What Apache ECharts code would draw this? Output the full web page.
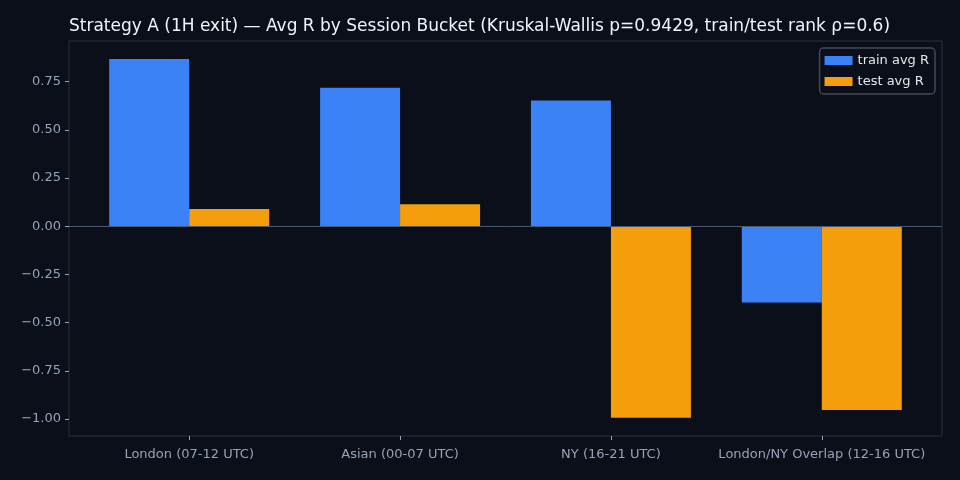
<!DOCTYPE html>
<html>
<head>
    <meta charset="utf-8" />
    <title>Avg R by Session Bucket</title>
    <script src="https://cdn.jsdelivr.net/npm/echarts@6/dist/echarts.min.js"></script>
    <style>
        html, body { margin: 0; padding: 0; background: #0b0f19; }
        #chart { width: 960px; height: 480px; }
    </style>
</head>
<body>
    <div id="chart"></div>
    <script type="text/javascript">
        // data
        var categories = ['London (07-12 UTC)', 'Asian (00-07 UTC)', 'NY (16-21 UTC)', 'London/NY Overlap (12-16 UTC)'];
        var trainAvgR = [0.868, 0.719, 0.652, -0.396];
        var testAvgR = [0.090, 0.114, -0.993, -0.953];
        var yTicks = [-1.0, -0.75, -0.5, -0.25, 0, 0.25, 0.5, 0.75];

        var xTicks = categories.map(function (c, i) { return i; });

        function fmtY(v) {
            var s = Math.abs(v).toFixed(2);
            return v < 0 ? '\u2212' + s : s;
        }

        var labelColor = '#94a3b8';
        var frameColor = '#2a3140';

        var myChart = echarts.init(document.getElementById('chart'));

        var option = {
            backgroundColor: '#0b0f19',
            animation: false,
            title: {
                text: 'Strategy A (1H exit) \u2014 Avg R by Session Bucket (Kruskal-Wallis p=0.9429, train/test rank \u03c1=0.6)',
                left: 64,
                top: 13,
                textStyle: { color: '#f1f5f9', fontSize: 17, fontWeight: 'normal', fontFamily: 'DejaVu Sans' }
            },
            legend: {
                right: 25,
                top: 48,
                orient: 'vertical',
                icon: 'rect',
                itemWidth: 28,
                itemHeight: 9,
                itemGap: 8,
                padding: [6, 6, 6, 5],
                borderColor: '#444a56',
                borderWidth: 1.5,
                borderRadius: 4,
                backgroundColor: '#0b0f19',
                textStyle: { color: '#e5e7eb', fontSize: 13, fontFamily: 'DejaVu Sans' },
                data: ['train avg R', 'test avg R']
            },
            grid: {
                left: 69, right: 18, top: 41, bottom: 44,
                show: true,
                borderColor: frameColor,
                borderWidth: 1,
                backgroundColor: '#0b0f19'
            },
            xAxis: {
                type: 'value',
                min: -0.57,
                max: 3.57,
                splitLine: { show: false },
                axisLine: { show: false, onZero: false },
                axisTick: { show: true, customValues: xTicks, length: 4, lineStyle: { color: labelColor } },
                axisLabel: {
                    customValues: xTicks,
                    color: labelColor,
                    fontSize: 13,
                    fontFamily: 'DejaVu Sans',
                    margin: 12,
                    formatter: function (v) { return categories[Math.round(v)]; }
                }
            },
            yAxis: {
                type: 'value',
                min: -1.088,
                max: 0.961,
                splitLine: { show: false },
                axisLine: { show: false, onZero: false },
                axisTick: { show: true, customValues: yTicks, length: 4, lineStyle: { color: labelColor } },
                axisLabel: {
                    customValues: yTicks,
                    color: labelColor,
                    fontSize: 13,
                    fontFamily: 'DejaVu Sans',
                    margin: 8,
                    formatter: fmtY
                }
            },
            series: [
                {
                    name: 'train avg R',
                    type: 'bar',
                    barWidth: 80,
                    barGap: '0%',
                    itemStyle: { color: '#3b82f6' },
                    data: trainAvgR.map(function (v, i) { return [i, v]; }),
                    markLine: {
                        silent: true,
                        symbol: 'none',
                        label: { show: false },
                        lineStyle: { color: '#4b5a70', type: 'solid', width: 1 },
                        data: [{ yAxis: 0 }]
                    }
                },
                {
                    name: 'test avg R',
                    type: 'bar',
                    barWidth: 80,
                    barGap: '0%',
                    itemStyle: { color: '#f59e0b' },
                    data: testAvgR.map(function (v, i) { return [i, v]; })
                }
            ]
        };

        myChart.setOption(option);
    </script>
</body>
</html>
